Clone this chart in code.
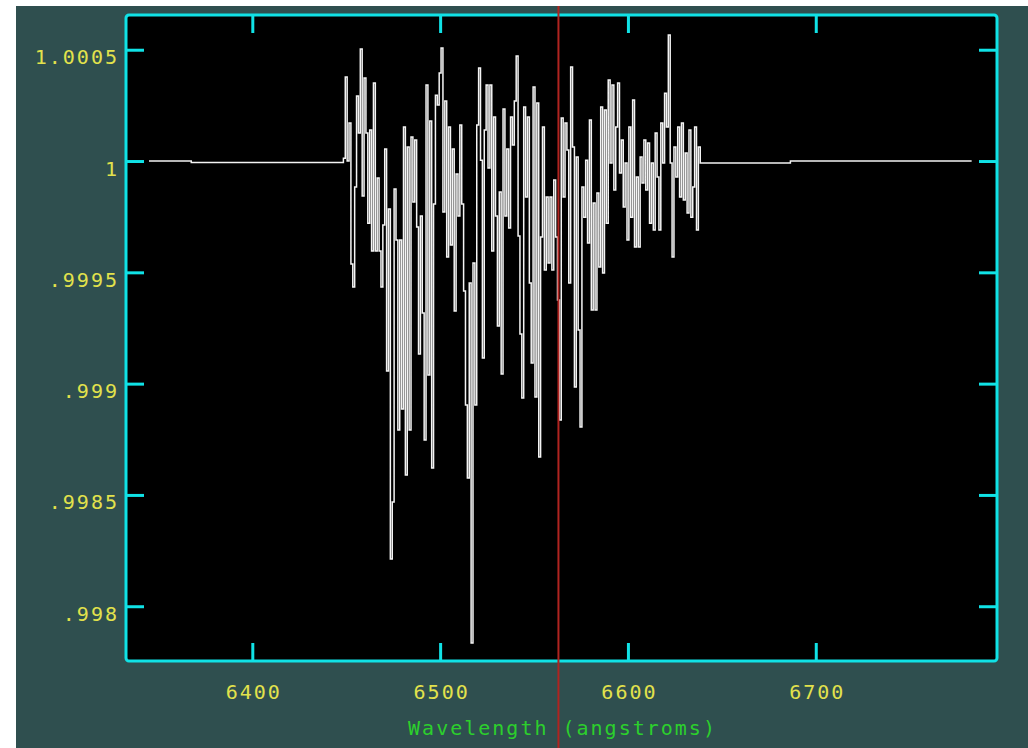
<!DOCTYPE html>
<html>
<head>
<meta charset="utf-8">
<script src="https://cdn.jsdelivr.net/npm/d3@7"></script>
<style>
  html, body { margin: 0; padding: 0; background: #fff; }
  svg { display: block; }
</style>
</head>
<body>
<div id="chart"></div>
<script>
// tick values and their labels (IRAF style, no leading zero)
const yTickValues = [0.998, 0.9985, 0.999, 0.9995, 1, 1.0005]
const yTickLabels = ['.998', '.9985', '.999', '.9995', '1', '1.0005']
const xTickValues = [6400, 6500, 6600, 6700]
const xTickLabels = ['6400', '6500', '6600', '6700']
const xLabel = 'Wavelength (angstroms)'
const markerWave = 6563

// flat continuum either side of the feature
const blueWave = [6345, 6367, 6368, 6448]
const blueFlux = [1.0, 1.0, 0.999993, 0.999993]
const redWave = [6639, 6686, 6687, 6783]
const redFlux = [0.999991, 0.999991, 1.0, 1.0]

// sampled spectrum, 1 A per pixel, starting at 6449 A
const lineStart = 6449
const lineStep = 1
const lineFlux = [
  1.000013, 1.000377, 1.000000, 1.000171, 0.999537, 0.999434, 0.999883, 1.000292, 1.000126, 1.000503,
  0.999843, 1.000373, 1.000126, 0.999721, 1.000139, 0.999596, 1.000350, 0.999596, 0.999924, 0.999596,
  0.999434, 0.999713, 1.000054, 0.999057, 0.999784, 0.998212, 0.998468, 0.999874, 0.999645, 0.998792,
  0.999645, 0.998886, 1.000153, 0.998590, 1.000063, 0.998792, 1.000108, 0.999816, 1.000094, 0.999704,
  0.999133, 0.999753, 0.999317, 0.998747, 1.000341, 0.999039, 1.000180, 0.998621,
  0.999807, 1.000296, 1.000252, 1.000395, 1.000508, 0.999771, 1.000270, 0.999569, 1.000153, 0.999623,
  1.000054, 0.999326, 0.999942, 0.999753, 1.000162, 0.999807, 0.999416, 0.998904, 0.998576, 0.999452,
  0.997835, 0.999542, 0.998904, 1.000162, 1.000418, 1.000004, 0.999115, 1.000139, 1.000341, 0.999969,
  1.000341, 0.999596, 1.000198, 0.999753, 0.999259, 0.999861, 0.999043, 1.000234, 0.999753, 1.000054,
  0.999699, 1.000198, 1.000072, 1.000270, 1.000472, 0.999663, 0.999223, 0.998935,
  1.000243, 0.999838, 1.000198, 0.999452, 0.999093, 1.000332, 0.998940, 1.000261, 0.998670, 0.999659,
  1.000153, 0.999510, 0.999838, 0.999542, 0.999838, 0.999510, 0.999915, 0.999659, 0.999376, 0.998837,
  1.000193, 0.999838, 1.000171, 1.000049, 0.999452, 1.000422, 1.000063, 0.998985, 1.000018, 0.999241,
  0.998805, 0.999883, 0.999748, 1.000004, 0.999632, 1.000184, 0.999331, 0.999811, 0.999331, 0.999856,
  0.999524, 1.000243, 0.999497, 1.000229, 0.999721, 1.000364, 0.999991, 1.000341,
  0.999870, 1.000153, 1.000350, 0.999946, 1.000094, 0.999793, 0.999991, 0.999645, 1.000153, 0.999748,
  1.000274, 0.999614, 0.999928, 0.999614, 1.000018, 0.999901, 1.000094, 0.999870, 1.000081, 0.999721,
  0.999991, 0.999690, 1.000126, 0.999928, 0.999690, 1.000171, 0.999991, 1.000305, 1.000153, 1.000566,
  0.999991, 0.999569, 1.000063, 0.999928, 1.000153, 0.999838, 1.000171, 0.999825, 1.000036, 0.999766,
  1.000139, 0.999748, 0.999883, 1.000153, 0.999690, 1.000063
]

const W = 1028
const H = 748
const frame = { left: 126, right: 997, top: 15, bottom: 661 }
const cyan = '#10e2e6'
const slate = '#2f4f4f'
const yellow = '#e2e24c'
const green = '#2ccf2c'
const font = "'DejaVu Sans Mono', 'Liberation Mono', monospace"

const svg = d3
  .select('#chart')
  .append('svg')
  .attr('width', W)
  .attr('height', H)

// white strip at left/top, slate window background
svg.append('rect').attr('width', W).attr('height', H).attr('fill', '#fff')
svg
  .append('rect')
  .attr('x', 16)
  .attr('y', 6)
  .attr('width', W - 16)
  .attr('height', H - 6)
  .attr('fill', slate)

const xPositionScale = d3
  .scaleLinear()
  .domain([6332.75, 6796.5])
  .range([frame.left, frame.right])
const yPositionScale = d3
  .scaleLinear()
  .domain([0.997754, 1.000656])
  .range([frame.bottom, frame.top])

svg
  .append('rect')
  .attr('x', frame.left)
  .attr('y', frame.top)
  .attr('width', frame.right - frame.left)
  .attr('height', frame.bottom - frame.top)
  .attr('fill', '#000')

svg
  .append('clipPath')
  .attr('id', 'plot-clip')
  .append('rect')
  .attr('x', frame.left)
  .attr('y', frame.top)
  .attr('width', frame.right - frame.left)
  .attr('height', frame.bottom - frame.top)

// put all the samples together
const points = []
blueWave.forEach((w, i) => points.push({ wave: w, flux: blueFlux[i] }))
lineFlux.forEach((f, i) => points.push({ wave: lineStart + i * lineStep, flux: f }))
redWave.forEach((w, i) => points.push({ wave: w, flux: redFlux[i] }))

const line = d3
  .line()
  .x(d => xPositionScale(d.wave))
  .y(d => yPositionScale(d.flux))
  .curve(d3.curveStep)

svg
  .append('path')
  .datum(points)
  .attr('clip-path', 'url(#plot-clip)')
  .attr('d', line)
  .attr('fill', 'none')
  .attr('stroke', '#f4f4f4')
  .attr('stroke-width', 1.5)

// axes: inward ticks on all four sides
const xAxisBottom = d3
  .axisBottom(xPositionScale)
  .tickValues(xTickValues)
  .tickSizeInner(-18)
  .tickSizeOuter(0)
  .tickFormat((d, i) => xTickLabels[i])
const xAxisTop = d3
  .axisTop(xPositionScale)
  .tickValues(xTickValues)
  .tickSizeInner(-18)
  .tickSizeOuter(0)
  .tickFormat('')
const yAxisLeft = d3
  .axisLeft(yPositionScale)
  .tickValues(yTickValues)
  .tickSizeInner(-18)
  .tickSizeOuter(0)
  .tickFormat((d, i) => yTickLabels[i])
const yAxisRight = d3
  .axisRight(yPositionScale)
  .tickValues(yTickValues)
  .tickSizeInner(-18)
  .tickSizeOuter(0)
  .tickFormat('')

svg.append('g').attr('class', 'axis x-axis').attr('transform', 'translate(0,' + frame.bottom + ')').call(xAxisBottom)
svg.append('g').attr('class', 'axis x-top').attr('transform', 'translate(0,' + frame.top + ')').call(xAxisTop)
svg.append('g').attr('class', 'axis y-axis').attr('transform', 'translate(' + frame.left + ',0)').call(yAxisLeft)
svg.append('g').attr('class', 'axis y-right').attr('transform', 'translate(' + frame.right + ',0)').call(yAxisRight)

svg.selectAll('.axis .domain').remove()
svg
  .selectAll('.axis .tick line')
  .attr('stroke', cyan)
  .attr('stroke-width', 3)
svg
  .selectAll('.axis text')
  .attr('fill', yellow)
  .attr('font-family', font)
  .attr('font-size', 20)
  .attr('letter-spacing', 2)
svg
  .selectAll('.x-axis text')
  .attr('y', 38)
  .attr('dy', 0)
  .attr('dx', 1)
svg
  .selectAll('.y-axis text')
  .attr('x', -7)
  .attr('dy', 0)
  .attr('y', 14)
  .attr('text-anchor', 'end')

// frame
svg
  .append('rect')
  .attr('x', frame.left)
  .attr('y', frame.top)
  .attr('width', frame.right - frame.left)
  .attr('height', frame.bottom - frame.top)
  .attr('rx', 3)
  .attr('fill', 'none')
  .attr('stroke', cyan)
  .attr('stroke-width', 3)

// H-alpha marker
svg
  .append('line')
  .attr('x1', xPositionScale(markerWave))
  .attr('x2', xPositionScale(markerWave))
  .attr('y1', 6)
  .attr('y2', H)
  .attr('stroke', '#b02420')
  .attr('stroke-width', 2)

svg
  .append('text')
  .attr('x', (frame.left + frame.right) / 2 + 1)
  .attr('y', 735)
  .attr('text-anchor', 'middle')
  .attr('fill', green)
  .attr('font-family', font)
  .attr('font-size', 20)
  .attr('letter-spacing', 2)
  .text(xLabel)
</script>
</body>
</html>
